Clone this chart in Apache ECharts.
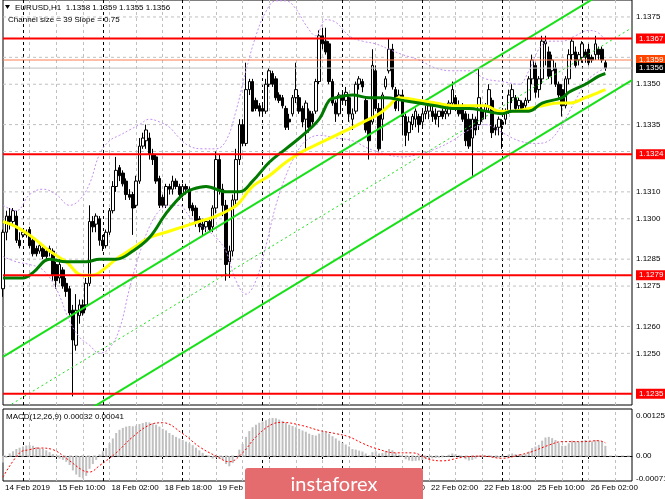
<!DOCTYPE html>
<html><head><meta charset="utf-8">
<script src="https://cdn.jsdelivr.net/npm/echarts@6/dist/echarts.min.js"></script>
<style>html,body{margin:0;padding:0;background:#fff}#c{width:665px;height:499px}</style>
</head><body><div id="c"></div>
<script>
// ---------- data ----------
const symbol = 'EURUSD,H1';
const lastQuote = [1.1358, 1.1359, 1.1355, 1.1356];
const channelInfo = 'Channel size = 39 Slope = 0.75';
const timeLabels = ['14 Feb 2019','15 Feb 10:00','18 Feb 02:00','18 Feb 18:00','19 Feb 10:00','20 Feb 02:00','20 Feb 18:00','21 Feb 10:00','22 Feb 02:00','22 Feb 18:00','25 Feb 10:00','26 Feb 02:00'];
const labelStep = 16;
const slotCount = 190;
const daySeparators = [6,30,54,78,102,126,150,174];
const gridStep = 8;
// candles: [open, close, low, high]
const candles = [
[1.1274,1.1295,1.1271,1.1296],[1.1295,1.1301,1.1292,1.1303],[1.1301,1.1299,1.1296,1.1304],[1.1299,1.1303,1.1298,1.1304],
[1.1301,1.1292,1.1291,1.1303],[1.1292,1.1290,1.1289,1.1295],[1.1294,1.1295,1.1293,1.1296],[1.1295,1.1294,1.1293,1.1296],
[1.1296,1.1290,1.1289,1.1297],[1.1292,1.1287,1.1286,1.1293],[1.1289,1.1287,1.1286,1.1290],[1.1288,1.1290,1.1287,1.1291],
[1.1289,1.1286,1.1285,1.1290],[1.1288,1.1286,1.1285,1.1289],[1.1288,1.1289,1.1286,1.1290],[1.1288,1.1279,1.1277,1.1289],
[1.1283,1.1277,1.1274,1.1284],[1.1278,1.1283,1.1276,1.1285],[1.1281,1.1275,1.1274,1.1282],[1.1276,1.1273,1.1271,1.1278],
[1.1274,1.1265,1.1264,1.1275],[1.1266,1.1255,1.1234,1.1268],[1.1253,1.1266,1.1251,1.1272],[1.1264,1.1268,1.1261,1.1270],
[1.1268,1.1265,1.1264,1.1270],[1.1268,1.1276,1.1266,1.1278],[1.1276,1.1299,1.1275,1.1305],[1.1299,1.1297,1.1295,1.1301],
[1.1298,1.1301,1.1295,1.1302],[1.1300,1.1292,1.1290,1.1301],[1.1292,1.1290,1.1288,1.1294],[1.1290,1.1295,1.1289,1.1296],
[1.1295,1.1303,1.1294,1.1304],[1.1303,1.1312,1.1302,1.1314],[1.1312,1.1318,1.1310,1.1323],[1.1319,1.1316,1.1314,1.1320],
[1.1317,1.1313,1.1312,1.1318],[1.1314,1.1309,1.1307,1.1315],[1.1309,1.1308,1.1307,1.1311],[1.1309,1.1304,1.1294,1.1310],
[1.1305,1.1314,1.1304,1.1316],[1.1314,1.1327,1.1313,1.1330],[1.1327,1.1330,1.1326,1.1332],[1.1329,1.1333,1.1326,1.1335],
[1.1330,1.1324,1.1322,1.1332],[1.1324,1.1322,1.1320,1.1326],[1.1323,1.1314,1.1313,1.1324],[1.1315,1.1305,1.1304,1.1316],
[1.1308,1.1305,1.1304,1.1309],[1.1305,1.1312,1.1304,1.1313],[1.1312,1.1311,1.1309,1.1313],[1.1311,1.1314,1.1309,1.1316],
[1.1314,1.1312,1.1311,1.1315],[1.1312,1.1309,1.1307,1.1313],[1.1309,1.1312,1.1308,1.1313],[1.1312,1.1311,1.1309,1.1313],
[1.1311,1.1304,1.1303,1.1312],[1.1305,1.1303,1.1301,1.1306],[1.1304,1.1299,1.1297,1.1305],[1.1300,1.1297,1.1295,1.1301],
[1.1298,1.1296,1.1294,1.1300],[1.1297,1.1299,1.1295,1.1300],[1.1299,1.1296,1.1295,1.1300],[1.1297,1.1304,1.1295,1.1305],
[1.1304,1.1322,1.1302,1.1325],[1.1322,1.1311,1.1309,1.1324],[1.1311,1.1305,1.1301,1.1313],[1.1305,1.1283,1.1277,1.1307],
[1.1284,1.1288,1.1278,1.1290],[1.1288,1.1307,1.1286,1.1309],[1.1307,1.1322,1.1305,1.1326],[1.1322,1.1335,1.1320,1.1337],
[1.1335,1.1328,1.1327,1.1337],[1.1328,1.1348,1.1327,1.1358],[1.1348,1.1351,1.1346,1.1352],[1.1351,1.1340,1.1340,1.1352],
[1.1344,1.1341,1.1340,1.1345],[1.1342,1.1340,1.1338,1.1343],[1.1341,1.1340,1.1338,1.1343],[1.1340,1.1350,1.1339,1.1352],
[1.1350,1.1355,1.1349,1.1356],[1.1354,1.1350,1.1349,1.1355],[1.1352,1.1345,1.1344,1.1353],[1.1346,1.1344,1.1343,1.1347],
[1.1345,1.1342,1.1341,1.1346],[1.1341,1.1334,1.1333,1.1342],[1.1337,1.1336,1.1333,1.1339],[1.1339,1.1345,1.1338,1.1346],
[1.1345,1.1348,1.1343,1.1358],[1.1345,1.1340,1.1339,1.1346],[1.1341,1.1336,1.1334,1.1342],[1.1337,1.1343,1.1326,1.1344],
[1.1340,1.1334,1.1332,1.1341],[1.1339,1.1336,1.1335,1.1340],[1.1340,1.1351,1.1339,1.1352],[1.1351,1.1368,1.1350,1.1370],
[1.1368,1.1365,1.1363,1.1371],[1.1366,1.1362,1.1361,1.1371],[1.1365,1.1351,1.1350,1.1366],[1.1351,1.1343,1.1342,1.1352],
[1.1343,1.1339,1.1336,1.1344],[1.1339,1.1346,1.1338,1.1347],[1.1346,1.1344,1.1343,1.1347],[1.1344,1.1347,1.1342,1.1349],
[1.1345,1.1339,1.1336,1.1346],[1.1337,1.1339,1.1333,1.1341],[1.1340,1.1350,1.1339,1.1351],[1.1350,1.1352,1.1348,1.1353],
[1.1351,1.1349,1.1347,1.1352],[1.1344,1.1333,1.1332,1.1345],[1.1337,1.1329,1.1322,1.1337],[1.1336,1.1357,1.1335,1.1363],
[1.1355,1.1341,1.1340,1.1357],[1.1341,1.1326,1.1325,1.1343],[1.1337,1.1346,1.1329,1.1347],[1.1349,1.1352,1.1348,1.1353],
[1.1355,1.1363,1.1354,1.1367],[1.1363,1.1349,1.1348,1.1365],[1.1348,1.1341,1.1340,1.1349],[1.1344,1.1346,1.1340,1.1348],
[1.1346,1.1338,1.1331,1.1348],[1.1338,1.1331,1.1327,1.1339],[1.1332,1.1336,1.1329,1.1338],[1.1335,1.1338,1.1333,1.1339],
[1.1337,1.1340,1.1334,1.1341],[1.1338,1.1335,1.1332,1.1339],[1.1336,1.1339,1.1334,1.1341],[1.1339,1.1340,1.1337,1.1342],
[1.1340,1.1342,1.1337,1.1343],[1.1340,1.1338,1.1336,1.1342],[1.1339,1.1337,1.1335,1.1341],[1.1338,1.1340,1.1334,1.1340],
[1.1340,1.1338,1.1337,1.1341],[1.1339,1.1340,1.1337,1.1341],[1.1339,1.1343,1.1338,1.1344],[1.1343,1.1348,1.1342,1.1351],
[1.1345,1.1341,1.1340,1.1346],[1.1342,1.1339,1.1338,1.1344],[1.1341,1.1337,1.1336,1.1343],[1.1339,1.1329,1.1327,1.1340],
[1.1337,1.1327,1.1326,1.1339],[1.1330,1.1337,1.1316,1.1339],[1.1337,1.1333,1.1331,1.1338],[1.1335,1.1345,1.1333,1.1356],
[1.1340,1.1337,1.1336,1.1342],[1.1340,1.1342,1.1337,1.1343],[1.1342,1.1348,1.1340,1.1350],[1.1344,1.1332,1.1330,1.1345],
[1.1334,1.1333,1.1331,1.1335],[1.1334,1.1337,1.1331,1.1338],[1.1336,1.1335,1.1326,1.1337],[1.1337,1.1340,1.1335,1.1341],
[1.1340,1.1346,1.1339,1.1348],[1.1345,1.1348,1.1343,1.1350],[1.1345,1.1341,1.1340,1.1346],[1.1342,1.1344,1.1340,1.1345],
[1.1343,1.1341,1.1340,1.1344],[1.1342,1.1344,1.1340,1.1345],[1.1344,1.1352,1.1343,1.1353],[1.1352,1.1359,1.1350,1.1361],
[1.1357,1.1347,1.1345,1.1358],[1.1348,1.1352,1.1345,1.1353],[1.1352,1.1366,1.1350,1.1368],[1.1365,1.1366,1.1357,1.1368],
[1.1362,1.1353,1.1352,1.1364],[1.1355,1.1359,1.1350,1.1361],[1.1356,1.1350,1.1349,1.1358],[1.1350,1.1346,1.1345,1.1351],
[1.1348,1.1342,1.1338,1.1350],[1.1342,1.1352,1.1341,1.1353],[1.1352,1.1361,1.1350,1.1363],[1.1361,1.1366,1.1359,1.1367],
[1.1362,1.1357,1.1356,1.1364],[1.1359,1.1361,1.1357,1.1362],[1.1360,1.1365,1.1358,1.1366],[1.1362,1.1360,1.1358,1.1363],
[1.1363,1.1358,1.1357,1.1365],[1.1360,1.1359,1.1358,1.1361],[1.1361,1.1365,1.1359,1.1368],[1.1363,1.1361,1.1359,1.1364],
[1.1363,1.1359,1.1358,1.1364],[1.1358,1.1356,1.1355,1.1359]
];
// indicator lines: [bar index, value]
const maGreen = [[0,1.1278],[6,1.1278],[9,1.1280],[14,1.1285],[19,1.1284],[25,1.1284],[29,1.1285],[34,1.1285],[39,1.1288],[44,1.1293],[49,1.1302],[54,1.1309],[57,1.1311],[61,1.1312],[67,1.1310],[71,1.1310],[75,1.1314],[80,1.1321],[85,1.1326],[90,1.1331],[95,1.1337],[98,1.1344],[100,1.1345],[105,1.1346],[110,1.1345],[115,1.1345],[120,1.1344],[125,1.1343],[130,1.1342],[135,1.1341],[140,1.1341],[145,1.1340],[150,1.1339],[153,1.1340],[158,1.1340],[162,1.1343],[168,1.1345],[170,1.1347],[175,1.1350],[179,1.1353],[181,1.1354]];
const maYellow = [[0,1.1299],[4,1.1297],[9,1.1293],[14,1.1288],[19,1.1284],[24,1.1279],[27,1.1279],[29,1.1280],[34,1.1285],[39,1.1289],[44,1.1293],[49,1.1295],[54,1.1297],[59,1.1299],[64,1.1301],[69,1.1304],[71,1.1306],[75,1.1312],[80,1.1316],[85,1.1321],[90,1.1325],[95,1.1328],[100,1.1331],[105,1.1334],[110,1.1337],[113,1.1339],[116,1.1342],[119,1.1345],[125,1.1344],[130,1.1343],[135,1.1342],[140,1.1342],[145,1.1342],[149,1.1340],[153,1.1340],[158,1.1341],[162,1.1342],[167,1.1343],[170,1.1343],[175,1.1345],[179,1.1347],[181,1.1348]];
const bandUpper = [[0,1.1305],[4,1.1303],[8,1.1309],[12,1.1311],[16,1.1309],[20,1.1305],[23,1.1307],[26,1.1313],[29,1.1324],[32,1.1329],[35,1.1331],[38,1.1333],[41,1.1335],[44,1.1337],[47,1.1336],[50,1.1334],[53,1.1330],[56,1.1327],[60,1.1326],[64,1.1326],[67,1.1329],[70,1.1340],[73,1.1355],[76,1.1368],[79,1.1377],[82,1.1381],[85,1.1381],[88,1.1378],[91,1.1372],[94,1.1368],[97,1.1374],[100,1.1373],[104,1.1368],[108,1.1366],[112,1.1365],[116,1.1363],[120,1.1361],[125,1.1359],[130,1.1356],[135,1.1355],[140,1.1355],[145,1.1352],[150,1.1351],[155,1.1350],[158,1.1355],[161,1.1363],[164,1.1366],[168,1.1366],[172,1.1368],[176,1.1370],[179,1.1369],[181,1.1366]];
const bandLower = [[0,1.1286],[4,1.1284],[8,1.1283],[12,1.1281],[16,1.1274],[20,1.1262],[23,1.1256],[26,1.1253],[29,1.1250],[32,1.1252],[35,1.1259],[38,1.1274],[41,1.1287],[44,1.1297],[47,1.1303],[50,1.1305],[53,1.1305],[56,1.1301],[60,1.1297],[64,1.1293],[67,1.1288],[70,1.1277],[73,1.1272],[76,1.1277],[79,1.1290],[82,1.1305],[85,1.1316],[88,1.1324],[91,1.1329],[95,1.1331],[100,1.1330],[105,1.1329],[110,1.1326],[115,1.1324],[120,1.1323],[125,1.1324],[130,1.1326],[135,1.1329],[140,1.1333],[145,1.1335],[150,1.1332],[155,1.1329],[160,1.1328],[164,1.1329],[168,1.1335],[172,1.1344],[176,1.1352],[181,1.1356]];
const channelUpper = [[0,1.12487],[189,1.13905]];
const channelMiddle = [[0,1.12292],[189,1.13710]];
const channelLower = [[0,1.12097],[189,1.13515]];
const priceTicks = [1.1375,1.1360,1.1350,1.1335,1.1310,1.1300,1.1285,1.1275,1.1260,1.1250];
const hiddenGridLevels = [1.1325];
const redLevels = [1.1367,1.1324,1.1279,1.1235];
const markedLevel = 1.1359;
const bidLevel = 1.1356;
const priceMin = 1.12308, priceMax = 1.13813;
// MACD
const macdParams = 'MACD(12,26,9)';
const macdLast = [0.00032, 0.00041];
const macdHist = [-0.00020,-0.00005,0.00008,0.00015,0.00022,0.00026,0.00030,0.00033,0.00034,0.00032,0.00028,0.00025,0.00022,0.00018,0.00012,0.00006,
-0.00002,-0.00008,-0.00012,-0.00018,-0.00028,-0.00045,-0.00058,-0.00066,-0.00070,-0.00062,-0.00040,-0.00025,-0.00012,0.00005,0.00015,0.00025,
0.00040,0.00055,0.00072,0.00082,0.00088,0.00092,0.00094,0.00093,0.00095,0.00100,0.00103,0.00106,0.00105,0.00103,0.00098,0.00092,
0.00085,0.00080,0.00072,0.00066,0.00060,0.00055,0.00050,0.00045,0.00040,0.00034,0.00026,0.00018,0.00010,0.00003,-0.00003,-0.00008,
-0.00005,-0.00008,-0.00012,-0.00025,-0.00032,-0.00022,0.00000,0.00020,0.00038,0.00060,0.00078,0.00090,0.00098,0.00104,0.00108,0.00112,
0.00116,0.00119,0.00118,0.00114,0.00110,0.00104,0.00098,0.00094,0.00090,0.00085,0.00080,0.00076,0.00070,0.00066,0.00064,0.00070,
0.00076,0.00074,0.00070,0.00062,0.00055,0.00048,0.00042,0.00036,0.00030,0.00022,0.00020,0.00017,0.00014,0.00008,0.00002,0.00012,
0.00015,0.00008,0.00010,0.00016,0.00022,0.00018,0.00010,0.00004,-0.00002,-0.00010,-0.00014,-0.00016,-0.00015,-0.00014,-0.00012,-0.00010,
-0.00008,-0.00007,-0.00006,-0.00005,-0.00004,-0.00002,0.00004,0.00008,0.00006,0.00002,-0.00002,-0.00010,-0.00014,-0.00012,-0.00008,-0.00002,
-0.00004,-0.00002,0.00002,-0.00004,-0.00006,-0.00005,-0.00003,0.00000,0.00005,0.00008,0.00006,0.00005,0.00004,0.00006,0.00014,0.00025,
0.00030,0.00035,0.00048,0.00058,0.00060,0.00056,0.00050,0.00042,0.00032,0.00032,0.00040,0.00048,0.00046,0.00044,0.00048,0.00050,
0.00048,0.00046,0.00050,0.00048,0.00044,0.00032];
const macdSignal = [[0,-0.00066],[5,0.00010],[8,0.00020],[11,0.00025],[15,0.00020],[19,-0.00007],[24,-0.00045],[26,-0.00050],[29,-0.00030],[34,0.00010],[39,0.00060],[44,0.00097],[48,0.00104],[54,0.00070],[59,0.00029],[64,0.00000],[68,-0.00018],[72,0.00010],[76,0.00060],[81,0.00100],[84,0.00105],[90,0.00095],[95,0.00080],[100,0.00070],[104,0.00060],[108,0.00040],[112,0.00024],[118,0.00010],[123,0.00010],[128,-0.00010],[132,-0.00015],[138,-0.00004],[144,0.00000],[150,-0.00007],[155,0.00003],[159,0.00014],[164,0.00034],[168,0.00045],[174,0.00045],[179,0.00048],[181,0.00041]];
const macdTicks = [0.00125, 0, -0.00071];
const macdMin = -0.00078, macdMax = 0.00147;
const brand = 'instaforex';

// ---------- chart ----------
const FONT = 'Liberation Sans';
const FS = 8;
const LAST = slotCount - 1;
const categories = Array.from({length: slotCount}, (_, i) => 'b' + i);
const isLabel = i => i % labelStep === 0;
const gridLines = [];
for (let i = gridStep; i < slotCount; i += gridStep) gridLines.push(i);

function vLines() {
  const d = gridLines.map(i => ({xAxis: i, lineStyle: {color: '#c0c0c0', type: [3, 3], width: 1}}));
  daySeparators.forEach(i => d.push({xAxis: i, lineStyle: {color: '#000', type: [3, 3], width: 1}}));
  return d;
}
// horizontal level drawn as a flat line across the panel, its value written at the right end
function level(ax, v, text, color, width, type, z, bg) {
  const label = {show: !!text, formatter: text || '', distance: 4, color: bg ? '#fff' : '#000',
    fontSize: FS, fontFamily: FONT};
  if (bg) Object.assign(label, {backgroundColor: bg, padding: [1, 5, 1, 3], lineHeight: 8});
  return {type: 'line', xAxisIndex: ax, yAxisIndex: ax, data: [[0, v], [LAST, v]], showSymbol: false, silent: true,
    lineStyle: {color, width, type, opacity: color ? 1 : 0}, z, endLabel: label, clip: false};
}

const lineS = (data, color, width, type, z, smooth) => ({type: 'line', xAxisIndex: 0, yAxisIndex: 0, data, showSymbol: false,
  smooth: smooth, lineStyle: {color, width, type}, z, silent: true});

const series = [
  {type: 'candlestick', xAxisIndex: 0, yAxisIndex: 0, data: candles, barWidth: 3, z: 3, silent: true,
    itemStyle: {color: '#ffffff', color0: '#000000', borderColor: '#000000', borderColor0: '#000000', borderWidth: 1},
    markLine: {symbol: 'none', silent: true, animation: false, label: {show: false}, z: 1, data: vLines()}},
  lineS(channelUpper, '#18e018', 2, 'solid', 4, false),
  lineS(channelMiddle, '#18e018', 1, [2, 3], 4, false),
  lineS(channelLower, '#18e018', 2, 'solid', 4, false),
  lineS(bandUpper, '#c58ef0', 1, [2, 2], 4, 0.4),
  lineS(bandLower, '#c58ef0', 1, [2, 2], 4, 0.4),
  lineS(maYellow, '#ffff00', 3, 'solid', 5, 0.4),
  lineS(maGreen, '#007a00', 3, 'solid', 6, 0.4),
  {type: 'bar', xAxisIndex: 1, yAxisIndex: 1, data: macdHist, barWidth: 2, itemStyle: {color: '#c0c0c0'}, z: 3, silent: true,
    markLine: {symbol: 'none', silent: true, animation: false, label: {show: false}, z: 1, data: vLines()}},
  {type: 'line', xAxisIndex: 1, yAxisIndex: 1, data: macdSignal, showSymbol: false, smooth: 0.4, z: 4, silent: true,
    lineStyle: {color: '#ff0000', width: 1, type: [2, 2]}}
];
priceTicks.forEach(v => series.push(level(0, v, v.toFixed(4), '#c0c0c0', 1, [3, 3], 1)));
hiddenGridLevels.forEach(v => series.push(level(0, v, '', '#c0c0c0', 1, [3, 3], 1)));
series.push(level(0, markedLevel, markedLevel.toFixed(4), '#ff7f50', 1, 'solid', 7, '#ff4500'));
series.push(level(0, bidLevel, bidLevel.toFixed(4), '#c0c0c0', 1, 'solid', 8, '#000000'));
redLevels.forEach(v => series.push(level(0, v, v.toFixed(4), '#ff0000', 2, 'solid', 9, '#ff0000')));
series.push(level(1, macdTicks[1], '0.00', '#c0c0c0', 1, [3, 3], 1));
series.push(level(1, macdTicks[0], macdTicks[0].toFixed(5), null, 1, 'solid', 1));
series.push(level(1, macdTicks[2], macdTicks[2].toFixed(5), null, 1, 'solid', 1));

const chart = echarts.init(document.getElementById('c'), null, {renderer: 'canvas'});
chart.setOption({
  animation: false,
  backgroundColor: '#ffffff',
  grid: [
    {left: 3, right: 33, top: 0, height: 405, show: true, borderColor: '#000', borderWidth: 1, backgroundColor: 'transparent'},
    {left: 3, right: 33, top: 409, height: 72, show: true, borderColor: '#000', borderWidth: 1, backgroundColor: 'transparent'}
  ],
  xAxis: [
    {type: 'category', gridIndex: 0, data: categories, boundaryGap: false, show: false},
    {type: 'category', gridIndex: 1, data: categories, boundaryGap: false,
      axisLine: {lineStyle: {color: '#000'}},
      axisTick: {interval: (i) => isLabel(i), length: 3, lineStyle: {color: '#000'}},
      axisLabel: {interval: (i) => isLabel(i), formatter: (v, i) => timeLabels[i / labelStep] || '',
        align: 'left', margin: 3, fontSize: FS, color: '#000', fontFamily: FONT, padding: [0, 0, 0, 2]},
      splitLine: {show: false}}
  ],
  yAxis: [
    {type: 'value', gridIndex: 0, min: priceMin, max: priceMax, show: false, splitLine: {show: false}},
    {type: 'value', gridIndex: 1, min: macdMin, max: macdMax, show: false, splitLine: {show: false}}
  ],
  series: series,
  graphic: [
    {type: 'polygon', shape: {points: [[5, 5], [10, 5], [7.5, 9]]}, style: {fill: '#000'}, z: 100},
    {type: 'text', x: 15, y: 8, style: {text: symbol + '  ' + lastQuote.map(v => v.toFixed(4)).join(' '),
      font: FS + 'px "' + FONT + '"', fill: '#000', verticalAlign: 'middle'}, z: 100},
    {type: 'text', x: 8, y: 20, style: {text: channelInfo, font: FS + 'px "' + FONT + '"', fill: '#000', verticalAlign: 'middle'}, z: 100},
    {type: 'text', x: 6, y: 417, style: {text: macdParams + ' ' + macdLast.map(v => v.toFixed(5)).join(' '),
      font: FS + 'px "' + FONT + '"', fill: '#000', verticalAlign: 'middle'}, z: 100},
    {type: 'rect', shape: {x: 245, y: 468, width: 178, height: 36, r: 3}, style: {fill: '#e46b6e'}, z: 100},
    {type: 'text', x: 334, y: 485, style: {text: brand, font: '20px Lato', fill: '#fff', align: 'center', verticalAlign: 'middle'}, z: 101}
  ]
});
</script>
</body></html>
